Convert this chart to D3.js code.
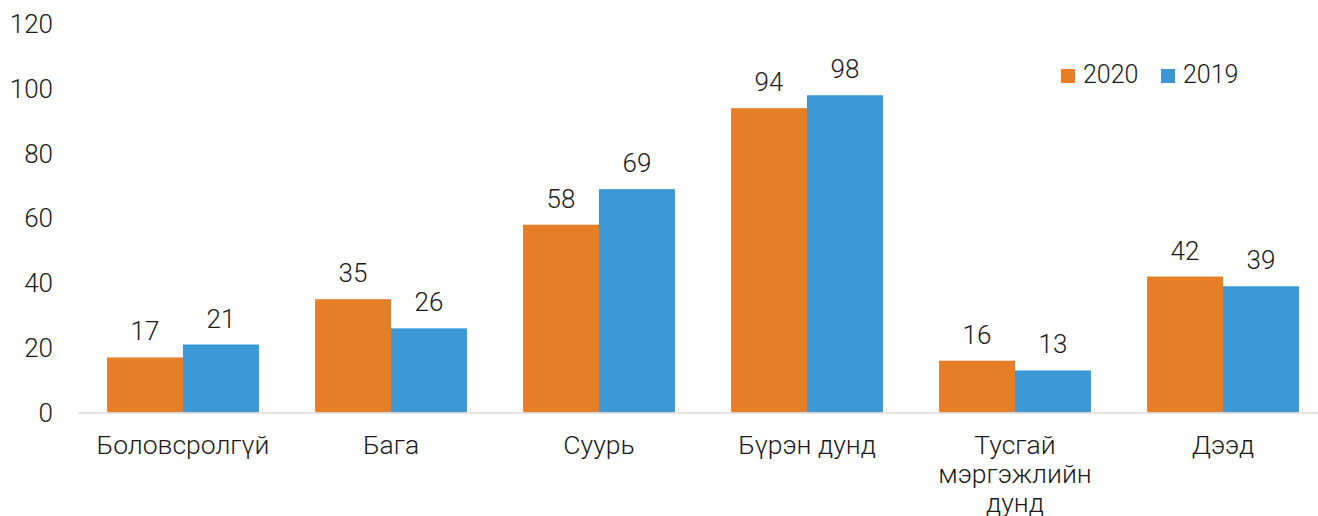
<!DOCTYPE html>
<html><head><meta charset="utf-8">
<script src="https://cdn.jsdelivr.net/npm/d3@7"></script>
<style>
body{margin:0;background:#fff;}
text{font-family:Roboto, "Noto Sans", sans-serif;font-weight:300;fill:#1a1a1a;}
</style></head>
<body><svg id="c" width="1318" height="516"></svg>
<script>
const categories = [["Боловсролгүй"],["Бага"],["Суурь"],["Бүрэн дунд"],["Тусгай","мэргэжлийн","дунд"],["Дээд"]];
const seriesNames = ["2020","2019"];
const values2020 = [17,35,58,94,16,42];
const values2019 = [21,26,69,98,13,39];
const yTicks = [0,20,40,60,80,100,120];
const colors = ["#E57E25","#3C98D5"];

const svg = d3.select("#c");
const y = d3.scaleLinear().domain([0,120]).range([412.5,24]);
const x0 = d3.scaleBand().domain(d3.range(categories.length)).range([79,1327]).paddingInner(0.27).paddingOuter(0.135);
const x1 = d3.scaleBand().domain(seriesNames).range([0,x0.bandwidth()]);
const data = [values2020, values2019];

// y tick labels
svg.append("g").selectAll("text").data(yTicks).join("text")
  .attr("x",53).attr("y",d=>y(d)).attr("dy","0.35em").attr("text-anchor","end")
  .attr("font-size",26).text(d=>d);

// bars
seriesNames.forEach((s,si)=>{
  const g = svg.append("g");
  g.selectAll("rect").data(data[si]).join("rect")
    .attr("x",(d,i)=>x0(i)+x1(s)).attr("y",d=>y(d))
    .attr("width",x1.bandwidth()).attr("height",d=>y(0)-y(d))
    .attr("fill",colors[si]);
  g.selectAll("text").data(data[si]).join("text")
    .attr("x",(d,i)=>x0(i)+x1(s)+x1.bandwidth()/2).attr("y",d=>y(d)-17)
    .attr("text-anchor","middle").attr("font-size",26).text(d=>d);
});

// baseline
svg.append("line").attr("x1",78).attr("x2",1318).attr("y1",y(0)+0.5).attr("y2",y(0)+0.5)
  .attr("stroke","#d9d9d9").attr("stroke-width",1.3);

// category labels
categories.forEach((lines,i)=>{
  const cx = x0(i)+x0.bandwidth()/2;
  const t = svg.append("text").attr("text-anchor","middle").attr("font-size",26.5)
    .attr("x",cx).attr("y",454);
  lines.forEach((l,j)=>t.append("tspan").attr("x",cx).attr("dy",j?29:0).text(l));
});

// legend
const lg = svg.append("g");
seriesNames.forEach((s,i)=>{
  const lx = 1061 + i*100;
  lg.append("rect").attr("x",lx).attr("y",69).attr("width",14).attr("height",14).attr("fill",colors[i]);
  lg.append("text").attr("x",lx+22).attr("y",83).attr("font-size",25).text(s);
});
</script></body></html>
